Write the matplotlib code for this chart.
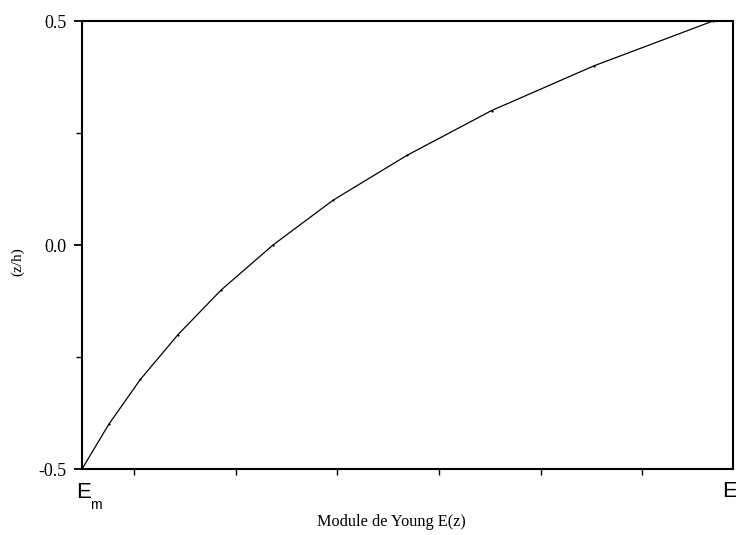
import matplotlib
matplotlib.use("Agg")
import matplotlib.pyplot as plt
from matplotlib.ticker import MultipleLocator, NullFormatter

# Data
z_over_h = [-0.5, -0.4, -0.3, -0.2, -0.1, 0.0, 0.1, 0.2, 0.3, 0.4, 0.5]
young_modulus = [74.5, 87.7, 103.2, 121.7, 143.0, 168.4, 197.9, 234.2, 275.8, 326.2, 384.7]
x_ticks = [100, 150, 200, 250, 300, 350]
y_ticks = [-0.5, 0.0, 0.5]
y_tick_labels = ["-0.5", "0.0", "0.5"]
x_label = "Module de Young E(z)"
y_label = "(z/h)"

W, H = 736, 535
fig = plt.figure(figsize=(W / 100, H / 100), dpi=100)
ax = fig.add_axes([82 / W, 1 - 469 / H, (733 - 82) / W, (469 - 21) / H])

ax.plot(young_modulus, z_over_h, color="black", lw=0.9,
        marker="o", markersize=1.2, markeredgewidth=0.3)

ax.set_xlim(74.5, 394.5)
ax.set_ylim(-0.5, 0.5)
ax.set_xticks(x_ticks)
ax.xaxis.set_major_formatter(NullFormatter())
ax.set_yticks(y_ticks)
ax.set_yticklabels(y_tick_labels, family="Liberation Serif", fontsize=13)
ax.yaxis.set_minor_locator(MultipleLocator(0.25))

for s in ax.spines.values():
    s.set_linewidth(1.5)
ax.tick_params(axis="y", which="major", direction="out", length=6, width=1.3, pad=5)
ax.tick_params(axis="y", which="minor", direction="out", length=4, width=1.0)
ax.tick_params(axis="x", which="major", direction="out", length=4, width=1.0)

# Em / Ec end labels
fig.text(76 / W, 1 - 498 / H, "E", family="Liberation Sans", fontsize=16,
         ha="left", va="baseline")
fig.text(90 / W, 1 - 509 / H, "m", family="Liberation Sans", fontsize=10,
         ha="left", va="baseline")
fig.text(722 / W, 1 - 497 / H, "E", family="Liberation Sans", fontsize=16,
         ha="left", va="baseline")
fig.text(735 / W, 1 - 508 / H, "c", family="Liberation Sans", fontsize=10,
         ha="left", va="baseline")

fig.text(391.5 / W, 1 - 522 / H, x_label, family="Liberation Serif", fontsize=11.7,
         ha="center", va="center")
fig.text(18 / W, 1 - 262 / H, y_label, family="Liberation Serif", fontsize=11,
         ha="center", va="center", rotation=90)

fig.savefig("out.png", dpi=100)
